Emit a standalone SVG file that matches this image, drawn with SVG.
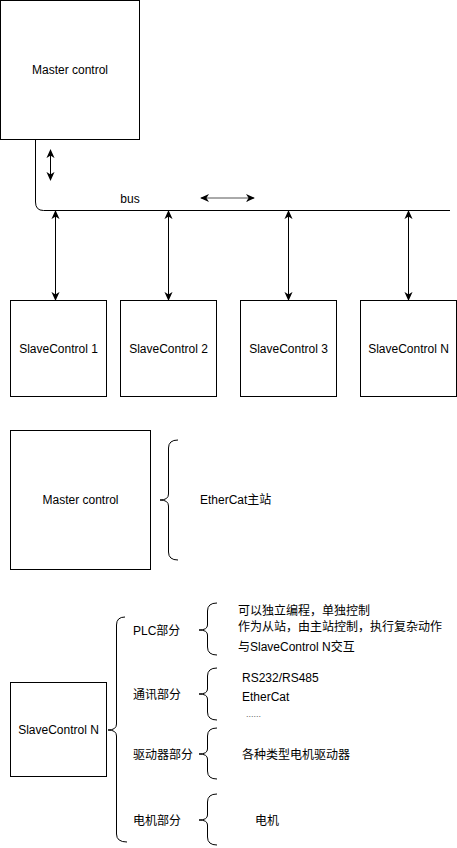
<svg xmlns="http://www.w3.org/2000/svg" width="457" height="848" viewBox="0 0 457 848">
<style>
.box{fill:#fff;stroke:#000;stroke-width:1}
.ln{fill:none;stroke:#000;stroke-width:1}
.t{font-family:"Liberation Sans","Noto Sans CJK SC",sans-serif;font-size:12px;fill:#000}
.c{text-anchor:middle;dominant-baseline:central}
.l{dominant-baseline:central}
</style>
<defs>
<marker id="ah" viewBox="0 0 10 10" refX="9" refY="5" markerWidth="9" markerHeight="9" orient="auto-start-reverse" markerUnits="userSpaceOnUse">
<path d="M0,0.5 L10,5 L0,9.5 L3,5 Z" fill="#000"/>
</marker>
</defs>
<rect width="457" height="848" fill="#fff"/>
<g id="master1"><rect class="box" x="0.5" y="0.5" width="139" height="139"/><text class="t c" x="70" y="70">Master control</text></g>
<g id="slave1"><rect class="box" x="10.5" y="300.5" width="96" height="96"/><text class="t c" x="58.5" y="349">SlaveControl 1</text></g>
<g id="slave2"><rect class="box" x="120.5" y="300.5" width="96" height="96"/><text class="t c" x="168.5" y="349">SlaveControl 2</text></g>
<g id="slave3"><rect class="box" x="240.5" y="300.5" width="96" height="96"/><text class="t c" x="288.5" y="349">SlaveControl 3</text></g>
<g id="slaveN"><rect class="box" x="360.5" y="300.5" width="96" height="96"/><text class="t c" x="408.5" y="349">SlaveControl N</text></g>
<g id="bus"><text class="t c" x="130" y="199">bus</text></g>
<g id="connectors">
<path class="ln" d="M35.5,140 L35.5,202 Q35.5,210.5 43.5,210.5 L450,210.5"/>
<line class="ln" x1="50.5" y1="150" x2="50.5" y2="180" marker-start="url(#ah)" marker-end="url(#ah)"/>
<line x1="201" y1="198" x2="254" y2="198" stroke="#555" stroke-width="1" marker-start="url(#ah)" marker-end="url(#ah)"/>
<line class="ln" x1="55.5" y1="211" x2="55.5" y2="300" marker-start="url(#ah)" marker-end="url(#ah)"/>
<line class="ln" x1="168.5" y1="211" x2="168.5" y2="300" marker-start="url(#ah)" marker-end="url(#ah)"/>
<line class="ln" x1="288.5" y1="211" x2="288.5" y2="300" marker-start="url(#ah)" marker-end="url(#ah)"/>
<line class="ln" x1="408.5" y1="211" x2="408.5" y2="300" marker-start="url(#ah)" marker-end="url(#ah)"/>
</g>
<g id="master2"><rect class="box" x="10.5" y="430.5" width="140" height="139"/><text class="t c" x="80.5" y="500">Master control</text></g>
<g id="brace-master"><path class="ln" d="M178,440 Q168.5,440 168.5,448 L168.5,494 Q168.5,500 160,500 Q168.5,500 168.5,506 L168.5,552 Q168.5,560 178,560"/><text class="t l" x="200" y="500">EtherCat主站</text></g>
<g id="slaveN2"><rect class="box" x="10.5" y="682.5" width="96" height="94"/><text class="t c" x="58.5" y="730">SlaveControl N</text></g>
<g id="brace-big"><path class="ln" d="M125,617 Q116.5,617 116.5,625 L116.5,724 Q116.5,730 108,730 Q116.5,730 116.5,736 L116.5,834 Q116.5,842 127,842"/></g>
<g id="plc"><text class="t l" x="133" y="631">PLC部分</text>
<path class="ln" d="M217,603 Q207.5,603 207.5,611 L207.5,625 Q207.5,630 199,630 Q207.5,630 207.5,635 L207.5,647 Q207.5,655 217,655"/>
<text class="t l" x="238" y="611">可以独立编程，单独控制</text>
<text class="t l" x="238" y="627">作为从站，由主站控制，执行复杂动作</text>
<text class="t l" x="238" y="647">与SlaveControl N交互</text></g>
<g id="comm"><text class="t l" x="133" y="695">通讯部分</text>
<path class="ln" d="M217,668 Q207.5,668 207.5,676 L207.5,689 Q207.5,694 199,694 Q207.5,694 207.5,699 L207.5,712 Q207.5,720 217,720"/>
<text class="t l" x="242" y="678">RS232/RS485</text>
<text class="t l" x="242" y="697">EtherCat</text>
<text class="t l" x="246" y="714" style="font-size:9px;fill:#666">......</text></g>
<g id="driver"><text class="t l" x="133" y="755">驱动器部分</text>
<path class="ln" d="M217,728 Q207.5,728 207.5,736 L207.5,749 Q207.5,754 199,754 Q207.5,754 207.5,759 L207.5,771 Q207.5,779 217,779"/>
<text class="t l" x="242" y="755">各种类型电机驱动器</text></g>
<g id="motor"><text class="t l" x="133" y="821">电机部分</text>
<path class="ln" d="M217,794 Q207.5,794 207.5,802 L207.5,815 Q207.5,820 199,820 Q207.5,820 207.5,825 L207.5,837 Q207.5,845 217,845"/>
<text class="t l" x="255" y="821">电机</text></g>
</svg>
